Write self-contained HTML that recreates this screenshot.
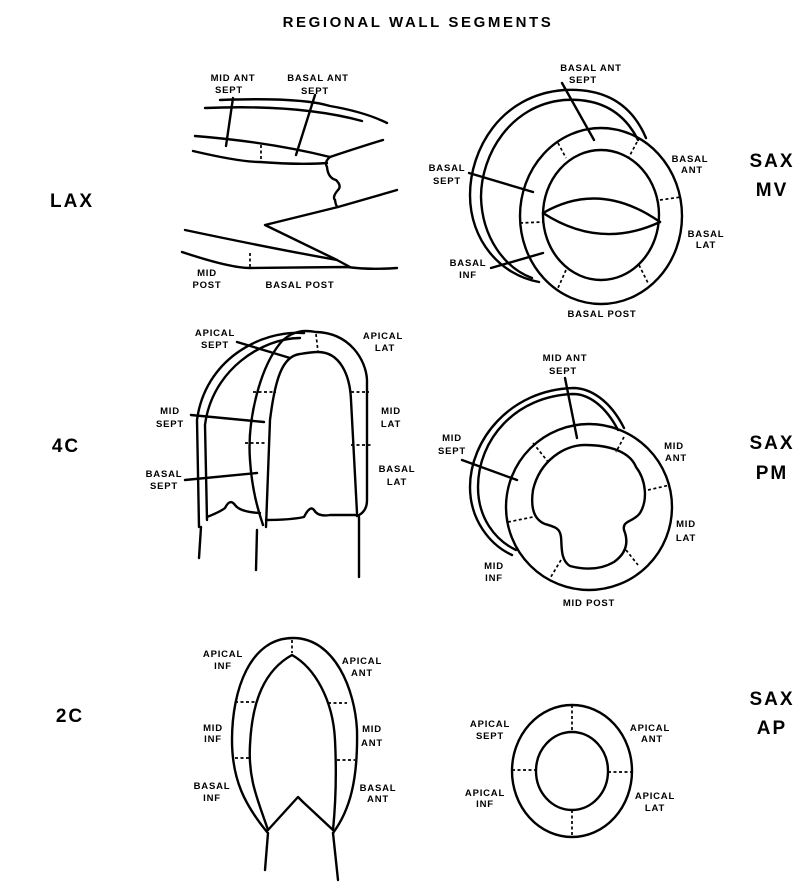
<!DOCTYPE html>
<html><head><meta charset="utf-8"><style>
html,body{margin:0;padding:0;background:#fff}
svg{display:block}
text{font-family:"Liberation Sans",sans-serif;font-weight:bold;fill:#000}
.s{font-size:9.5px;letter-spacing:0.8px;text-anchor:middle}
.b{font-size:19px;letter-spacing:2px;text-anchor:middle}
</style></head><body>
<svg width="805" height="887" viewBox="0 0 805 887" xmlns="http://www.w3.org/2000/svg">
<g fill="none" stroke="#000" stroke-width="2.4" stroke-linecap="round" stroke-linejoin="round">
<!-- LAX -->
<path d="M220,100 Q300,97 330,106 Q365,112 387,123"/>
<path d="M205,108 Q300,104 362,121"/>
<path d="M195,136 Q270,142 330,157 Q360,147 383,140"/>
<path d="M193,151 Q240,162 260,162 Q300,165 327,163"/>
<path d="M330,157 Q324,162 327,167 Q328,178 336,180 Q342,186 338,190 Q332,197 335,200 Q336,207 338,207 L397,190"/>
<path d="M338,207 L265,225 L337,260 L350,267"/>
<path d="M185,230 Q270,248 337,260"/>
<path d="M182,252 Q230,268 250,268 L347,267 Q370,270 397,268"/>
<path d="M233,98 L226,146"/><path d="M315,95 L296,155"/>
<!-- SAX MV -->
<ellipse cx="601" cy="216" rx="81" ry="88"/>
<ellipse cx="601" cy="215" rx="58" ry="65"/>
<path d="M543,213 Q600,180 660,222"/>
<path d="M543,213 Q600,250 660,222"/>
<path d="M646,138 C630,100 600,88 564,90 C500,95 470,150 470,195 C470,240 500,275 539,282"/>
<path d="M638,140 C622,108 595,98 564,100 C510,105 481,155 481,197 C482,238 505,268 532,278"/>
<path d="M562,83 L594,140"/><path d="M469,173 L533,192"/><path d="M491,268 L543,253"/>
<!-- 4C -->
<path d="M266,527 L270,420 C275,380 282,356 300,354 C312,352 318,352 318,352 C340,352 350,375 351,400 L357,513"/>
<path d="M266,520 Q290,520 304,517 Q310,505 314,510 Q318,517 330,515 L357,515"/>
<path d="M283,340 C260,365 247,420 250,460 C252,490 258,510 263,525"/>
<path d="M283,340 C295,330 305,330 316,332 C350,333 366,360 367,380 L367,500 C367,510 362,514 357,516"/>
<path d="M304,333 C260,330 205,360 197,420 L199,527"/>
<path d="M300,338 C262,338 212,370 205,425 L207,520"/>
<path d="M207,517 Q220,512 225,508 Q230,498 235,505 Q240,512 260,513"/>
<path d="M201,527 L199,558"/><path d="M257,530 L256,570"/><path d="M359,517 L359,577"/>
<path d="M237,342 L290,358"/><path d="M191,415 L264,422"/><path d="M185,480 L257,473"/>
<!-- SAX PM -->
<ellipse cx="589" cy="507" rx="83" ry="83"/>
<path d="M533,490 C540,460 565,445 585,445 C610,445 630,452 636,467 C646,480 648,500 640,513 C634,522 622,520 624,530 C628,540 628,552 614,562 C600,570 585,570 570,566 C560,560 562,545 561,537 C560,528 555,527 545,524 C535,520 530,510 533,490 Z"/>
<path d="M624,428 C610,400 590,388 573,388 C510,390 470,440 470,487 C470,520 490,545 512,555"/>
<path d="M618,430 C605,405 588,394 573,394 C515,396 478,440 478,487 C478,518 495,540 516,550"/>
<path d="M565,378 L577,438"/><path d="M462,460 L517,480"/>
<!-- 2C -->
<path d="M267,832 C245,805 232,780 232,740 C232,690 250,638 293,638 C335,638 355,690 357,730 C358,780 350,810 333,833"/>
<path d="M268,830 C258,800 248,780 250,745 C252,700 265,670 292,655 C315,668 333,700 335,740 C337,780 335,810 333,830"/>
<path d="M268,830 L298,797 L303,802 L333,830"/>
<path d="M268,833 L265,870"/><path d="M333,833 L338,880"/>
<!-- SAX AP -->
<ellipse cx="572" cy="771" rx="60" ry="66"/>
<ellipse cx="572" cy="771" rx="36" ry="39"/>
</g>
<g fill="none" stroke="#000" stroke-width="1.7" stroke-dasharray="3,2.5">
<path d="M261,145 L261,162"/><path d="M250,253 L250,268"/>
<path d="M558,143 L566,158"/><path d="M637,142 L629,157"/><path d="M660,200 L681,197"/>
<path d="M520,223 L543,222"/><path d="M566,270 L558,288"/><path d="M639,265 L648,283"/>
<path d="M316,334 L318,352"/><path d="M253,392 L276,392"/><path d="M351,392 L369,392"/>
<path d="M245,443 L266,443"/><path d="M351,445 L371,445"/>
<path d="M533,443 L549,463"/><path d="M624,437 L616,452"/><path d="M648,490 L670,485"/>
<path d="M508,522 L533,517"/><path d="M561,560 L549,580"/><path d="M626,550 L638,565"/>
<path d="M292,640 L292,653"/><path d="M235,702 L255,702"/><path d="M328,703 L347,703"/>
<path d="M235,758 L250,758"/><path d="M337,760 L355,760"/>
<path d="M572,705 L572,732"/><path d="M572,810 L572,837"/><path d="M512,770 L537,770"/><path d="M608,772 L632,772"/>
</g>
<text x="418" y="27" style="font-size:15px;letter-spacing:2.6px;text-anchor:middle">REGIONAL WALL SEGMENTS</text>
<text class="b" x="72" y="207">LAX</text>
<text class="b" x="66" y="452">4C</text>
<text class="b" x="70" y="722">2C</text>
<text class="b" x="772" y="167">SAX</text><text class="b" x="772" y="196">MV</text>
<text class="b" x="772" y="449">SAX</text><text class="b" x="772" y="479">PM</text>
<text class="b" x="772" y="705">SAX</text><text class="b" x="772" y="734">AP</text>
<g class="s">
<text class="s" x="233" y="81">MID ANT</text><text class="s" x="229" y="93">SEPT</text>
<text class="s" x="318" y="81">BASAL ANT</text><text class="s" x="315" y="94">SEPT</text>
<text class="s" x="207" y="276">MID</text><text class="s" x="207" y="288">POST</text>
<text class="s" x="300" y="288">BASAL POST</text>
<text class="s" x="591" y="71">BASAL ANT</text><text class="s" x="583" y="83">SEPT</text>
<text class="s" x="447" y="171">BASAL</text><text class="s" x="447" y="184">SEPT</text>
<text class="s" x="690" y="162">BASAL</text><text class="s" x="692" y="173">ANT</text>
<text class="s" x="706" y="237">BASAL</text><text class="s" x="706" y="248">LAT</text>
<text class="s" x="468" y="266">BASAL</text><text class="s" x="468" y="278">INF</text>
<text class="s" x="602" y="317">BASAL POST</text>
<text class="s" x="215" y="336">APICAL</text><text class="s" x="215" y="348">SEPT</text>
<text class="s" x="383" y="339">APICAL</text><text class="s" x="385" y="351">LAT</text>
<text class="s" x="170" y="414">MID</text><text class="s" x="170" y="427">SEPT</text>
<text class="s" x="164" y="477">BASAL</text><text class="s" x="164" y="489">SEPT</text>
<text class="s" x="391" y="414">MID</text><text class="s" x="391" y="427">LAT</text>
<text class="s" x="397" y="472">BASAL</text><text class="s" x="397" y="485">LAT</text>
<text class="s" x="565" y="361">MID ANT</text><text class="s" x="563" y="374">SEPT</text>
<text class="s" x="452" y="441">MID</text><text class="s" x="452" y="454">SEPT</text>
<text class="s" x="674" y="449">MID</text><text class="s" x="676" y="461">ANT</text>
<text class="s" x="686" y="527">MID</text><text class="s" x="686" y="541">LAT</text>
<text class="s" x="494" y="569">MID</text><text class="s" x="494" y="581">INF</text>
<text class="s" x="589" y="606">MID POST</text>
<text class="s" x="223" y="657">APICAL</text><text class="s" x="223" y="669">INF</text>
<text class="s" x="362" y="664">APICAL</text><text class="s" x="362" y="676">ANT</text>
<text class="s" x="213" y="731">MID</text><text class="s" x="213" y="742">INF</text>
<text class="s" x="372" y="732">MID</text><text class="s" x="372" y="746">ANT</text>
<text class="s" x="212" y="789">BASAL</text><text class="s" x="212" y="801">INF</text>
<text class="s" x="378" y="791">BASAL</text><text class="s" x="378" y="802">ANT</text>
<text class="s" x="490" y="727">APICAL</text><text class="s" x="490" y="739">SEPT</text>
<text class="s" x="650" y="731">APICAL</text><text class="s" x="652" y="742">ANT</text>
<text class="s" x="485" y="796">APICAL</text><text class="s" x="485" y="807">INF</text>
<text class="s" x="655" y="799">APICAL</text><text class="s" x="655" y="811">LAT</text>
</g>
</svg>
</body></html>
